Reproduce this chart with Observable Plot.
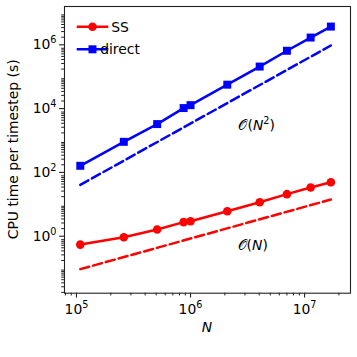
<!DOCTYPE html>
<html><head><meta charset="utf-8">
<script src="https://cdn.jsdelivr.net/npm/d3@7"></script>
<script src="https://cdn.jsdelivr.net/npm/@observablehq/plot@0.6"></script>
<style>html,body{margin:0;padding:0;background:#fff} svg{display:block}</style>
</head><body><div id="chart"></div>
<script>
// ---- data ----
const N = [1.08e5, 2.6e5, 5.1e5, 8.7e5, 1.0e6, 2.1e6, 4.04e6, 7.0e6, 1.13e7, 1.7e7];
const directTime = [186, 1050, 3780, 1.2e4, 1.48e4, 6.5e4, 2.4e5, 7.5e5, 1.95e6, 4.3e6];
const ssTime = [0.63, 1.07, 1.87, 3.2, 3.4, 7.0, 13.4, 24, 39, 57];
const refN = [1.08e5, 1.7e7];
const refN2Time = [47, 1.1e6];
const refNTime = [0.107, 16.3];
const annLabels = ["O(N^2)", "O(N)"];
const annX = [3.8e6, 3.51e6];
const annY = [3340, 0.61];
const seriesNames = ["SS", "direct"];
const xMajorTicks = [1e5, 1e6, 1e7];
const yMajorTicks = [1e0, 1e2, 1e4, 1e6];
const xLabel = "N";
const yLabel = "CPU time per timestep (s)";

const red = "#ff0000", blue = "#0000ff", ink = "#222";
const FS = 13.9;
const xDomain = [10 ** 4.895, 10 ** 7.4025];
const yDomain = [10 ** -1.724, 10 ** 7.263];

function minorTicks(lo, hi, domain, majors) {
  const out = [];
  for (let e = lo; e <= hi; e++) for (let m = 1; m <= 9; m++) {
    const v = m * 10 ** e;
    if (v >= domain[0] && v <= domain[1] && !majors.some(M => Math.abs(M - v) / M < 1e-9)) out.push(v);
  }
  return out;
}
const xMinor = minorTicks(4, 7, xDomain, xMajorTicks);
const yMinor = minorTicks(-2, 7, yDomain, yMajorTicks);

const directData = N.map((n, i) => ({n, t: directTime[i]}));
const ssData = N.map((n, i) => ({n, t: ssTime[i]}));
const refData = refN.map((n, i) => ({n, n2: refN2Time[i], n1: refNTime[i]}));
const annData = annLabels.map((s, i) => ({x: annX[i], y: annY[i], s}));
const fmt = v => "10^" + Math.round(Math.log10(v));

const svg = Plot.plot({
  width: 357, height: 357,
  marginLeft: 64, marginRight: 7, marginTop: 6, marginBottom: 64.3,
  style: {fontFamily: "DejaVu Sans", fontSize: FS + "px", background: "white", color: "black"},
  x: {type: "log", domain: xDomain, axis: null},
  y: {type: "log", domain: yDomain, axis: null},
  marks: [
    Plot.line(refData, {x: "n", y: "n2", stroke: blue, strokeWidth: 2.5, strokeDasharray: "9.25,4"}),
    Plot.line(refData, {x: "n", y: "n1", stroke: red, strokeWidth: 2.5, strokeDasharray: "9.25,4"}),
    Plot.line(directData, {x: "n", y: "t", stroke: blue, strokeWidth: 2.5}),
    Plot.dot(directData, {x: "n", y: "t", symbol: "square", r: 4.5, fill: blue}),
    Plot.line(ssData, {x: "n", y: "t", stroke: red, strokeWidth: 2.5}),
    Plot.dot(ssData, {x: "n", y: "t", r: 4.3, fill: red}),
    Plot.text(annData, {x: "x", y: "y", text: "s", fontSize: FS, fill: "black"}),
    Plot.axisX(xMajorTicks, {tickSize: 4.9, tickPadding: 5.8, tickFormat: fmt, stroke: ink, strokeWidth: 1.1, fill: "black", fontSize: FS}),
    Plot.axisX(xMinor, {tickSize: 2.8, tickFormat: () => "", stroke: ink, strokeWidth: 1}),
    Plot.axisY(yMajorTicks, {tickSize: 4.9, tickPadding: 3.1, tickFormat: fmt, stroke: ink, strokeWidth: 1.1, fill: "black", fontSize: FS, dy: -2}),
    Plot.axisY(yMinor, {tickSize: 2.8, tickFormat: () => "", stroke: ink, strokeWidth: 1}),
    Plot.frame({stroke: ink, strokeWidth: 1.1})
  ]
});

const S = d3.select(svg);
// superscripts on tick labels and math annotations
S.selectAll("text").each(function() {
  const s = this.textContent;
  const t = d3.select(this);
  if (/^10\^/.test(s)) {
    const [b, e] = s.split("^");
    t.text(null);
    t.append("tspan").text(b);
    t.append("tspan").attr("font-size", "9.7px").attr("dy", "-6px").text(e);
  } else if (s === "O(N^2)" || s === "O(N)") {
    t.text(null);
    t.append("tspan").text("\u{1D4AA}");
    t.append("tspan").text("(");
    t.append("tspan").attr("font-style", "italic").text("N");
    if (s === "O(N^2)") {
      t.append("tspan").attr("font-size", "9.7px").attr("dy", "-6px").text("2");
      t.append("tspan").attr("dy", "6px").text(")");
    } else {
      t.append("tspan").text(")");
    }
  }
});

// legend
const lg = S.append("g").attr("font-family", "DejaVu Sans").attr("font-size", FS + "px");
const legendRows = [{name: seriesNames[0], color: red, sym: "circle", y: 26.7}, {name: seriesNames[1], color: blue, sym: "square", y: 49.3}];
legendRows.forEach(r => {
  lg.append("line").attr("x1", 76.7).attr("x2", 108.3).attr("y1", r.y).attr("y2", r.y).attr("stroke", r.color).attr("stroke-width", 2.5);
  if (r.sym === "circle") lg.append("circle").attr("cx", 92.5).attr("cy", r.y).attr("r", 4.3).attr("fill", r.color);
  else lg.append("rect").attr("x", 92.5 - 4).attr("y", r.y - 4).attr("width", 8).attr("height", 8).attr("fill", r.color);
  lg.append("text").attr("x", 120).attr("y", r.y + 5).attr("fill", "black").text(r.name);
});

// axis labels
S.append("text").attr("x", 207).attr("y", 331.7).attr("text-anchor", "middle").attr("font-family", "DejaVu Sans").attr("font-style", "italic").attr("font-size", FS + "px").attr("fill", "black").text(xLabel);
S.append("text").attr("transform", "translate(17.5,149.3) rotate(-90)").attr("text-anchor", "middle").attr("font-family", "DejaVu Sans").attr("font-size", FS + "px").attr("fill", "black").text(yLabel);

document.getElementById("chart").appendChild(svg);
</script>
</body></html>
